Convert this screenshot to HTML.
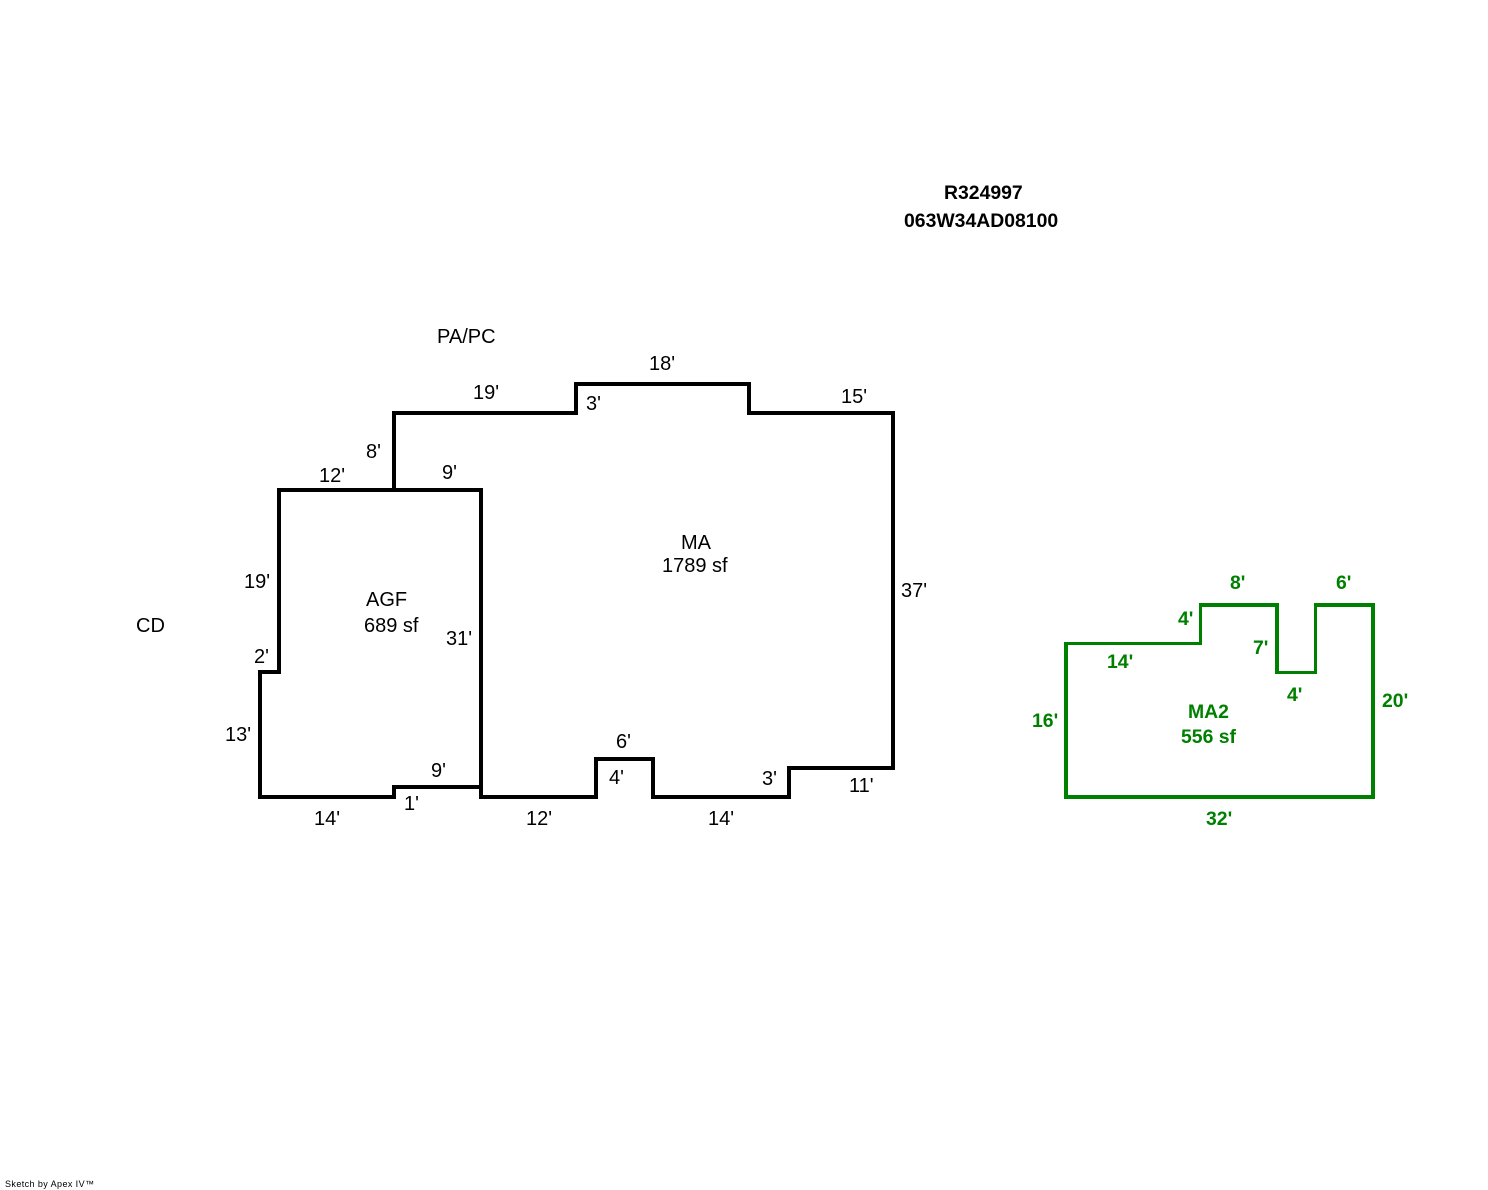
<!DOCTYPE html>
<html>
<head>
<meta charset="utf-8">
<style>
html,body{margin:0;padding:0;background:#fff;width:1488px;height:1190px;overflow:hidden}
svg{display:block}
text{font-family:"Liberation Sans",Arial,sans-serif;font-size:20px;fill:#000}
.g text{fill:#008000;font-weight:bold;font-size:19.4px}
.b text{font-weight:bold;font-size:19.4px}
</style>
</head>
<body>
<svg xmlns="http://www.w3.org/2000/svg" width="1488" height="1190" viewBox="0 0 1488 1190">
<g fill="none" stroke="#000" stroke-width="4" stroke-linejoin="miter" stroke-linecap="square" shape-rendering="crispEdges">
<path d="M481 787H394V797H260V672H279V490H481V797"/>
<path d="M394 490V413H576V384H749V413H893V768H789V797H653V759H596V797H481"/>
</g>
<g fill="#008000" shape-rendering="crispEdges">
<rect x="1064" y="642" width="138" height="3"/>
<rect x="1064" y="642" width="4" height="157"/>
<rect x="1199" y="603" width="3" height="42"/>
<rect x="1199" y="603" width="80" height="4"/>
<rect x="1275" y="603" width="4" height="71"/>
<rect x="1275" y="671" width="42" height="3"/>
<rect x="1314" y="603" width="3" height="71"/>
<rect x="1314" y="603" width="61" height="4"/>
<rect x="1371" y="603" width="4" height="196"/>
<rect x="1064" y="795" width="311" height="4"/>
</g>
<g class="b">
<text x="944" y="199">R324997</text>
<text x="904" y="227">063W34AD08100</text>
</g>
<g>
<text x="437" y="343">PA/PC</text>
<text x="649" y="370">18'</text>
<text x="473" y="399">19'</text>
<text x="586" y="410">3'</text>
<text x="841" y="403">15'</text>
<text x="366" y="458">8'</text>
<text x="319" y="482">12'</text>
<text x="442" y="479">9'</text>
<text x="244" y="588">19'</text>
<text x="366" y="606">AGF</text>
<text x="364" y="632">689 sf</text>
<text x="446" y="645">31'</text>
<text x="136" y="632">CD</text>
<text x="254" y="663">2'</text>
<text x="225" y="741">13'</text>
<text x="431" y="777">9'</text>
<text x="404" y="810">1'</text>
<text x="314" y="825">14'</text>
<text x="526" y="825">12'</text>
<text x="708" y="825">14'</text>
<text x="609" y="784">4'</text>
<text x="616" y="748">6'</text>
<text x="762" y="785">3'</text>
<text x="849" y="792">11'</text>
<text x="901" y="597">37'</text>
<text x="681" y="549">MA</text>
<text x="662" y="572">1789 sf</text>
</g>
<g class="g">
<text x="1230" y="589">8'</text>
<text x="1336" y="589">6'</text>
<text x="1178" y="625">4'</text>
<text x="1253" y="654">7'</text>
<text x="1107" y="668">14'</text>
<text x="1287" y="701">4'</text>
<text x="1382" y="707">20'</text>
<text x="1032" y="727">16'</text>
<text x="1188" y="718">MA2</text>
<text x="1181" y="743">556 sf</text>
<text x="1206" y="825">32'</text>
</g>
<text x="5" y="1187" style="font-size:9px" textLength="89" lengthAdjust="spacing">Sketch by Apex IV™</text>
</svg>
</body>
</html>
